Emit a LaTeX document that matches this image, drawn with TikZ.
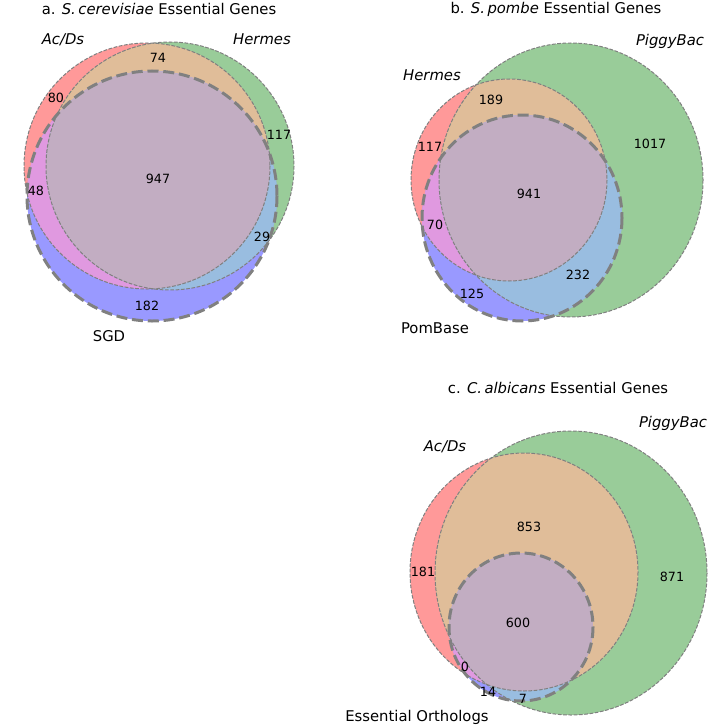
\documentclass[tikz,border=0pt]{standalone}
\usepackage{fontspec}
\setmainfont{DejaVu Sans}
\usepackage{tikz}

\definecolor{vennA}{RGB}{255,153,153}
\definecolor{vennB}{RGB}{153,204,153}
\definecolor{vennC}{RGB}{153,153,255}
\definecolor{vennAB}{RGB}{224,189,153}
\definecolor{vennAC}{RGB}{224,153,224}
\definecolor{vennBC}{RGB}{153,189,224}
\definecolor{vennABC}{RGB}{194,173,194}

\begin{document}
\begin{tikzpicture}[x=1pt,y=-1pt,
        setline/.style={gray, line width=1pt, dash pattern=on 3.7pt off 1.6pt},
        refline/.style={gray, line width=3pt, dash pattern=on 11pt off 4.8pt},
        num/.style={font=\fontsize{12.7}{14}\selectfont},
        setname/.style={font=\fontsize{14.8}{16}\selectfont\itshape},
        refname/.style={font=\fontsize{14.8}{16}\selectfont},
        heading/.style={font=\fontsize{14.8}{16}\selectfont}]
        \useasboundingbox (0,0) rectangle (709,725);
        %\draw[step=50,black,thin] (0,0) grid (709,725);

        % a. S. cerevisiae
        \coordinate (acdsa) at (147,166);
        \coordinate (hermesa) at (170,166);
        \coordinate (sgd) at (152,196);
        \fill[vennA] (acdsa) circle [radius=123];
        \fill[vennB] (hermesa) circle [radius=124];
        \fill[vennC] (sgd) circle [radius=125];
        \begin{scope}
            \clip (acdsa) circle [radius=123];
            \fill[vennAB] (hermesa) circle [radius=124];
            \fill[vennAC] (sgd) circle [radius=125];
        \end{scope}
        \begin{scope}
            \clip (hermesa) circle [radius=124];
            \fill[vennBC] (sgd) circle [radius=125];
        \end{scope}
        \begin{scope}
            \clip (acdsa) circle [radius=123];
            \clip (hermesa) circle [radius=124];
            \fill[vennABC] (sgd) circle [radius=125];
        \end{scope}
        \draw[setline] (acdsa) circle [radius=123];
        \draw[setline] (hermesa) circle [radius=124];
        \draw[refline] (sgd) circle [radius=125];

        \node[heading] (titlea) at (159,9) {a. \textit{S.\,cerevisiae} Essential Genes};
        \node[setname] (acdsnamea) at (63,40) {Ac/Ds};
        \node[setname] (hermesnamea) at (262,39) {Hermes};
        \node[refname] (sgdname) at (109,336) {SGD};
        \node[num] (a74) at (158,58) {74};
        \node[num] (a80) at (56,98) {80};
        \node[num] (a117) at (279,135) {117};
        \node[num] (a947) at (158,179) {947};
        \node[num] (a48) at (36,191) {48};
        \node[num] (a29) at (262,237) {29};
        \node[num] (a182) at (147,306) {182};

        % b. S. pombe
        \coordinate (hermesb) at (509,180);
        \coordinate (piggyb) at (571,180);
        \coordinate (pombase) at (522,218);
        \fill[vennA] (hermesb) ellipse [x radius=98, y radius=101];
        \fill[vennB] (piggyb) ellipse [x radius=132, y radius=137];
        \fill[vennC] (pombase) ellipse [x radius=100, y radius=103];
        \begin{scope}
            \clip (hermesb) ellipse [x radius=98, y radius=101];
            \fill[vennAB] (piggyb) ellipse [x radius=132, y radius=137];
            \fill[vennAC] (pombase) ellipse [x radius=100, y radius=103];
        \end{scope}
        \begin{scope}
            \clip (piggyb) ellipse [x radius=132, y radius=137];
            \fill[vennBC] (pombase) ellipse [x radius=100, y radius=103];
        \end{scope}
        \begin{scope}
            \clip (hermesb) ellipse [x radius=98, y radius=101];
            \clip (piggyb) ellipse [x radius=132, y radius=137];
            \fill[vennABC] (pombase) ellipse [x radius=100, y radius=103];
        \end{scope}
        \draw[setline] (hermesb) ellipse [x radius=98, y radius=101];
        \draw[setline] (piggyb) ellipse [x radius=132, y radius=137];
        \draw[refline] (pombase) ellipse [x radius=100, y radius=103];

        \node[heading] (titleb) at (556,9) {b. \textit{S.\,pombe} Essential Genes};
        \node[setname] (piggynameb) at (670,41) {PiggyBac};
        \node[setname] (hermesnameb) at (432,75) {Hermes};
        \node[refname] (pombasename) at (435,328) {PomBase};
        \node[num] (b189) at (491,100) {189};
        \node[num] (b117) at (430,147) {117};
        \node[num] (b1017) at (650,144) {1017};
        \node[num] (b941) at (529,194) {941};
        \node[num] (b70) at (435,225) {70};
        \node[num] (b232) at (578,275) {232};
        \node[num] (b125) at (472,294) {125};

        % c. C. albicans
        \coordinate (acdsc) at (524,572);
        \coordinate (piggyc) at (571,573);
        \coordinate (orthologs) at (521,627);
        \fill[vennA] (acdsc) ellipse [x radius=114, y radius=119];
        \fill[vennB] (piggyc) ellipse [x radius=136, y radius=142];
        \fill[vennC] (orthologs) ellipse [x radius=72, y radius=74];
        \begin{scope}
            \clip (acdsc) ellipse [x radius=114, y radius=119];
            \fill[vennAB] (piggyc) ellipse [x radius=136, y radius=142];
            \fill[vennAC] (orthologs) ellipse [x radius=72, y radius=74];
        \end{scope}
        \begin{scope}
            \clip (piggyc) ellipse [x radius=136, y radius=142];
            \fill[vennBC] (orthologs) ellipse [x radius=72, y radius=74];
        \end{scope}
        \begin{scope}
            \clip (acdsc) ellipse [x radius=114, y radius=119];
            \clip (piggyc) ellipse [x radius=136, y radius=142];
            \fill[vennABC] (orthologs) ellipse [x radius=72, y radius=74];
        \end{scope}
        \draw[setline] (acdsc) ellipse [x radius=114, y radius=119];
        \draw[setline] (piggyc) ellipse [x radius=136, y radius=142];
        \draw[refline] (orthologs) ellipse [x radius=72, y radius=74];

        \node[heading] (titlec) at (558,388) {c. \textit{C.\,albicans} Essential Genes};
        \node[setname] (piggynamec) at (673,423) {PiggyBac};
        \node[setname] (acdsnamec) at (445,447) {Ac/Ds};
        \node[refname] (orthname) at (417,717) {Essential Orthologs};
        \node[num] (c853) at (529,527) {853};
        \node[num] (c181) at (423,572) {181};
        \node[num] (c871) at (672,577) {871};
        \node[num] (c600) at (518,623) {600};
        \node[num] (c0) at (465,667) {0};
        \node[num] (c14) at (488,692) {14};
        \node[num] (c7) at (523,699) {7};
\end{tikzpicture}
\end{document}
